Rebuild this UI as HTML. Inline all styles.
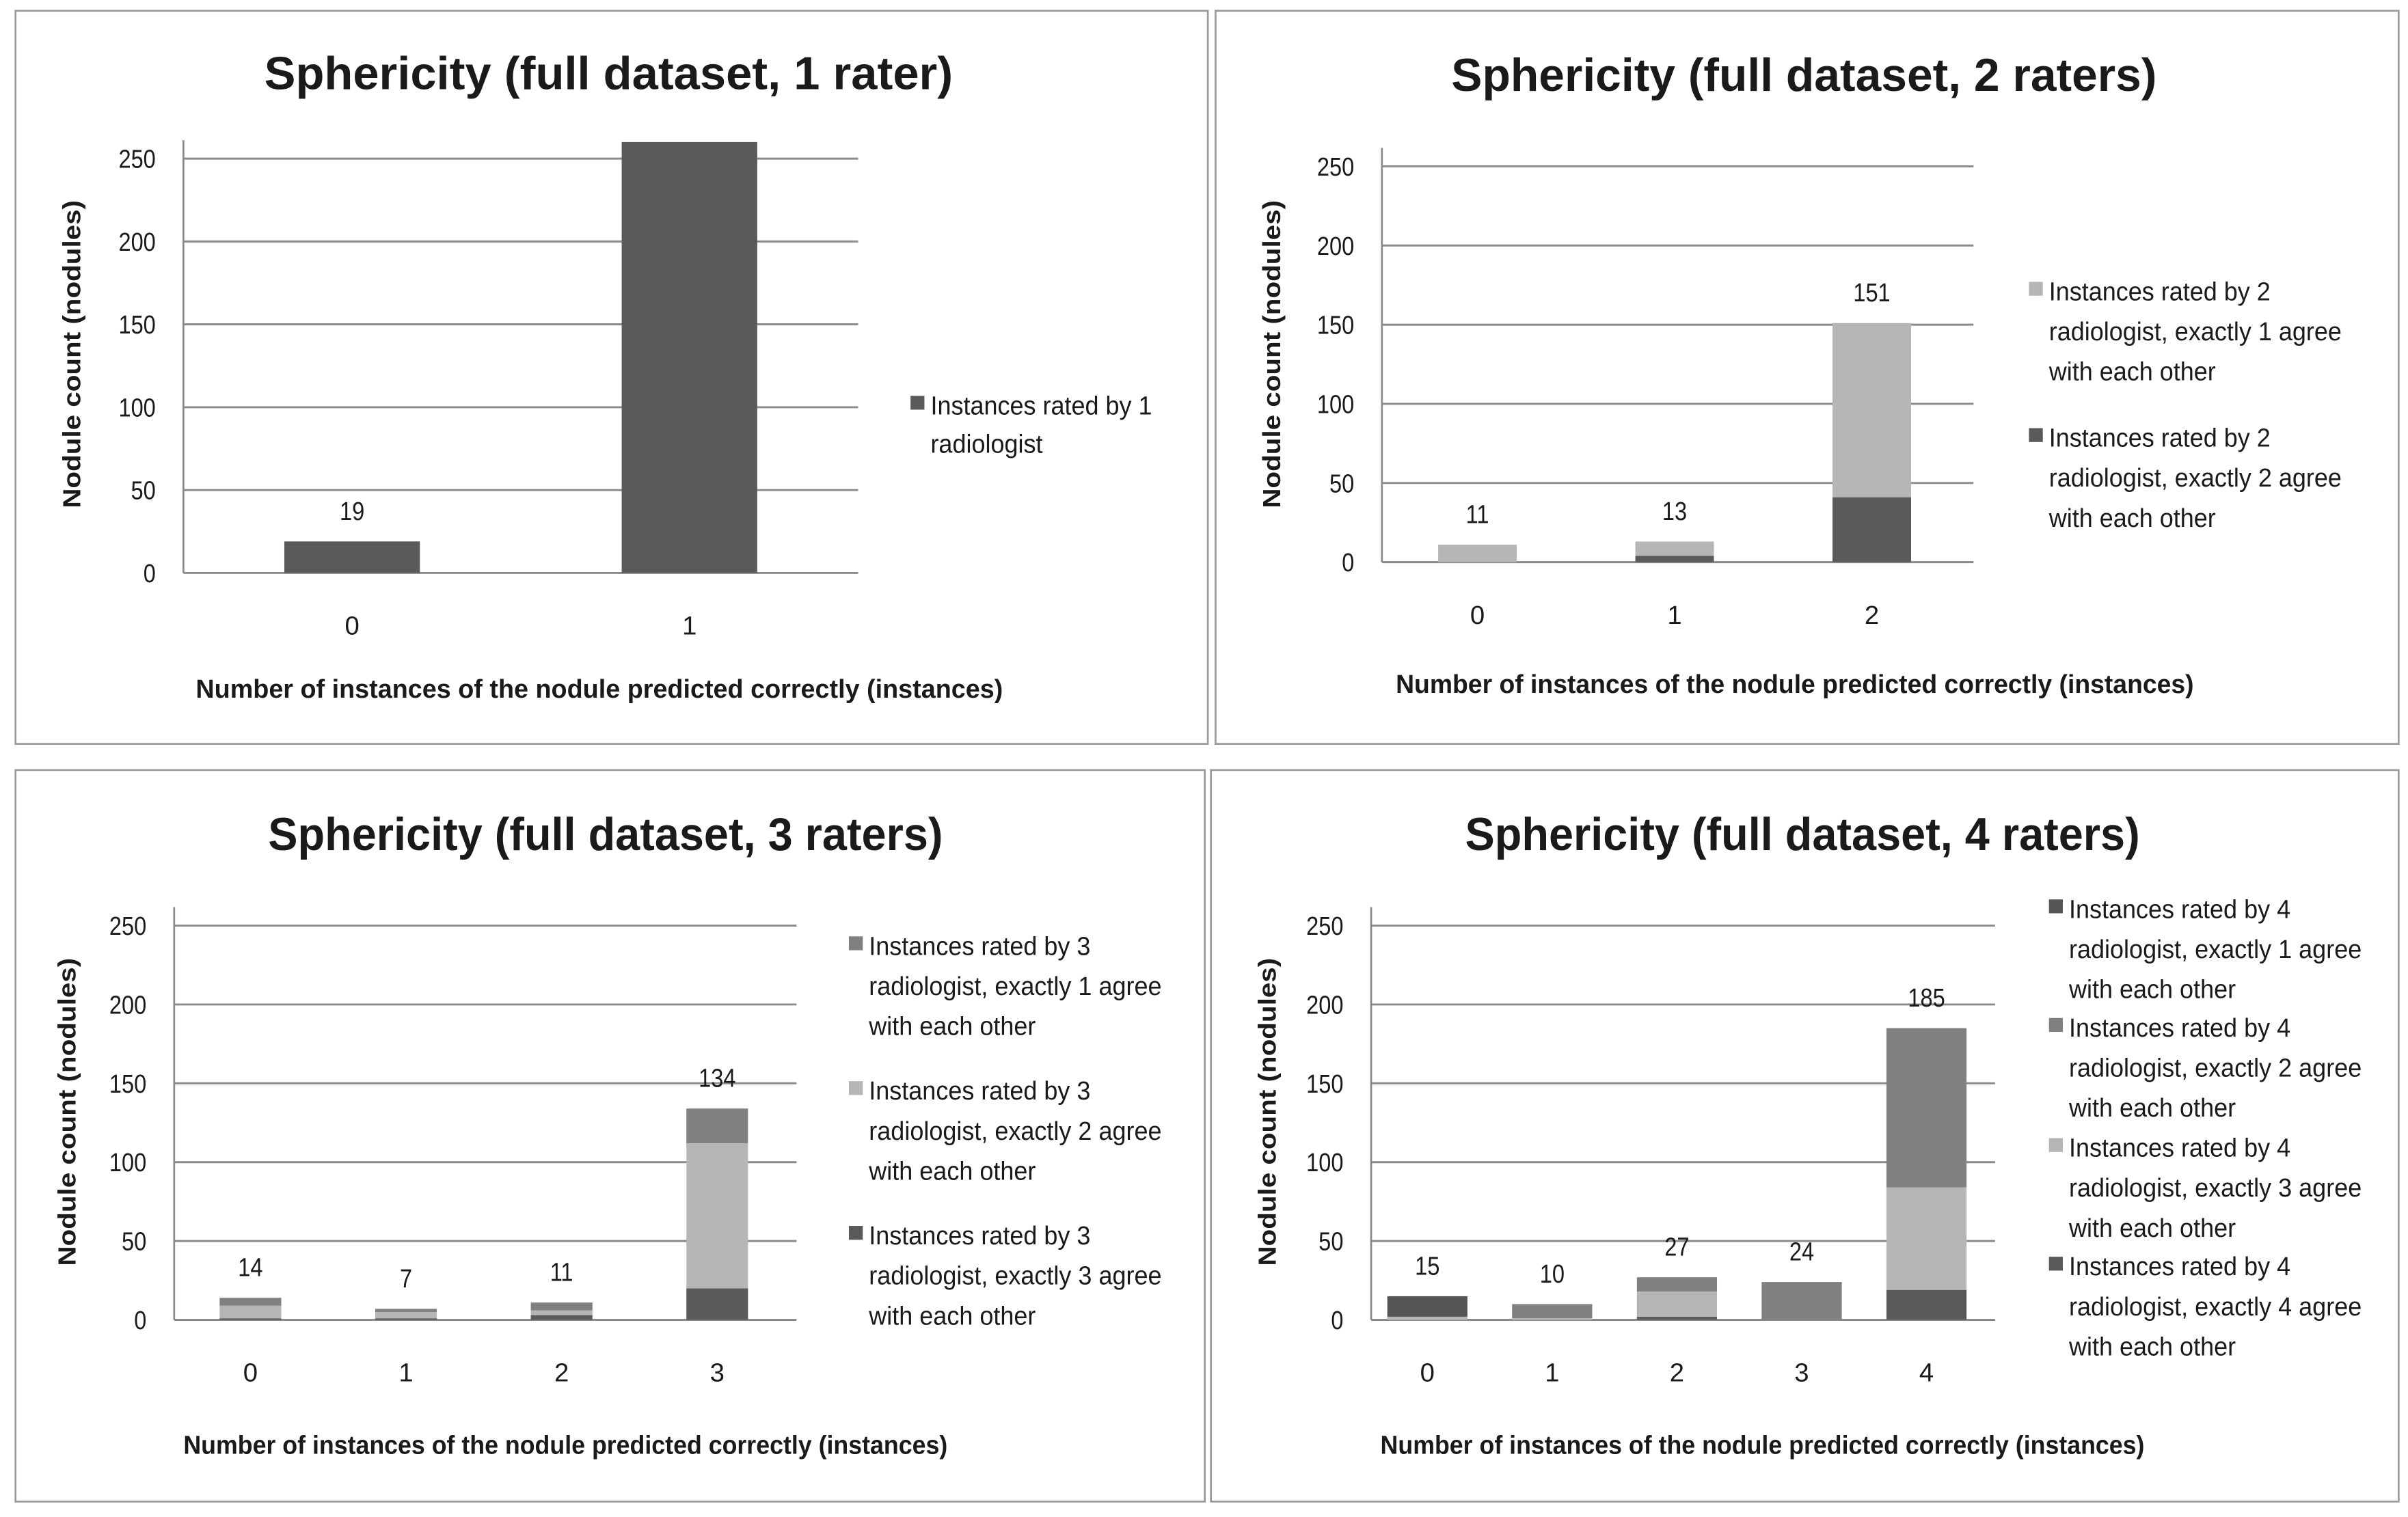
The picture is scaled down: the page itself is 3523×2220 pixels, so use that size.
<!DOCTYPE html>
<html><head><meta charset="utf-8">
<style>
html,body{margin:0;padding:0;background:#fff;}
svg{display:block;}
text{font-family:"Liberation Sans Narrow","Liberation Sans",sans-serif;fill:#1a1a1a;}
</style></head>
<body>
<svg id="root" width="3523" height="2220" viewBox="0 0 1563 985" xmlns="http://www.w3.org/2000/svg"></svg>
<script>
// ---- data ----
const cats1 = ["0","1"];
const c1_exact1 = [19, 260];
const totals1 = ["19", ""];

const cats2 = ["0","1","2"];
const c2_exact2 = [0, 4, 41];
const c2_exact1 = [11, 9, 110];
const totals2 = ["11","13","151"];

const cats3 = ["0","1","2","3"];
const c3_exact3 = [1, 1, 3, 20];
const c3_exact2 = [8, 4, 3, 92];
const c3_exact1 = [5, 2, 5, 22];
const totals3 = ["14","7","11","134"];

const cats4 = ["0","1","2","3","4"];
const c4_exact4 = [0, 0, 2, 0, 19];
const c4_exact3 = [2, 1, 16, 0, 65];
const c4_exact2 = [0, 9, 9, 24, 101];
const c4_exact1 = [13, 0, 0, 0, 0];
const totals4 = ["15","10","27","24","185"];

const yTicks = [0, 50, 100, 150, 200, 250];
const yMax = 250;

const NS = "http://www.w3.org/2000/svg";
const root = document.getElementById('root');
function mk(tag, attrs, parent){
  const e = document.createElementNS(NS, tag);
  for (const k in attrs) e.setAttribute(k, attrs[k]);
  (parent||root).appendChild(e);
  return e;
}
function txt(str, attrs, parent){ const t = mk('text', attrs, parent); t.textContent = str; return t; }
function condense(t, f){
  const w = t.getComputedTextLength();
  if (w > 0) { t.setAttribute('textLength', (w * f).toFixed(1)); t.setAttribute('lengthAdjust', 'spacingAndGlyphs'); }
}

function drawPanel(p){
  const g = mk('g', {});
  
  
  const frame = mk('rect', {x:p.bx, y:p.by, width:p.bw, height:p.bh, fill:'#fff', stroke:'#9a9a9a', 'stroke-width':1.2}, g);
  
  
  const title = txt(p.title, {x:p.titleX, y:p.titleY, 'text-anchor':'middle', 'font-size':30, 'font-weight':'bold', textLength:p.titleW, lengthAdjust:'spacingAndGlyphs'}, g);
  
  
  const yScale = v => p.y0 - (v / yMax) * (p.y0 - p.y250);
  yTicks.forEach(v => {
    const y = yScale(v);
    const gl = mk('line', {x1:p.ax, x2:p.ax2, y1:y, y2:y, stroke:'#8a8a8a', 'stroke-width':1.3}, g);
    
    
    const tl = txt(String(v), {x:p.ax - 18, y:y + 6, 'text-anchor':'end', 'font-size':17}, g);
    
    
    condense(tl, 0.85);
  });
  const axis = mk('line', {x1:p.ax, x2:p.ax, y1:p.y0, y2:p.y250 - 12, stroke:'#8a8a8a', 'stroke-width':1.2}, g);
  
  
  const n = p.cats.length;
  const step = (p.ax2 - p.ax) / n;
  const xC = i => p.ax + step * (i + 0.5) + (p.xOff || 0);
  p.cats.forEach((c, i) => {
    let acc = 0;
    p.series.forEach((s, si) => {
      const v = s.values[i];
      if (v > 0) {
        const yTop = yScale(acc + v), yBot = yScale(acc);
        const r = mk('rect', {x:xC(i) - p.barW/2, y:yTop, width:p.barW, height:yBot - yTop, fill:s.color}, g);
        
        
      }
      acc += v;
    });
    if (p.totals[i] !== "") {
      const lab = txt(p.totals[i], {x:xC(i), y:yScale(acc) - 14, 'text-anchor':'middle', 'font-size':17}, g);
      
      
      condense(lab, 0.85);
    }
    const xl = txt(c, {x:xC(i), y:p.y0 + 40, 'text-anchor':'middle', 'font-size':17}, g);
    
    
  });
  const xt = txt("Number of instances  of the nodule  predicted correctly (instances)", {x:p.xtX, y:p.xtY, 'text-anchor':'middle', 'font-size':17, 'font-weight':'bold', textLength:p.xtW || 520, lengthAdjust:'spacingAndGlyphs'}, g);
  
  
  const yt = txt("Nodule count  (nodules)", {x:0, y:0, 'text-anchor':'middle', 'font-size':16, 'font-weight':'bold', textLength:200, lengthAdjust:'spacingAndGlyphs', transform:'translate(' + p.ytX + ',' + p.ytY + ') rotate(-90)'}, g);
  
  
  p.legend.forEach(L => {
    const sq = mk('rect', {x:p.lx, y:L.y - 6, width:9, height:9, fill:L.color}, g);
    
    
    L.lines.forEach((ln, k) => {
      const t = txt(ln, {x:p.lx + 13, y:L.y + 6 + k * p.lh, 'font-size':17}, g);
      
      
      condense(t, 0.94);
    });
  });
}

const dark = '#5a5a5a', mid = '#808080', light = '#b6b6b6';

drawPanel({name:'panel-1-rater', bx:10, by:7, bw:774, bh:476, title:'Sphericity (full dataset, 1 rater)', titleX:395, titleY:58, titleW:447,
  ax:119, ax2:557, y0:372, y250:103, barW:88, cats:cats1, totals:totals1,
  series:[{key:'exact1', values:c1_exact1, color:dark}],
  xtX:389, xtY:453, xtW:524, ytX:52, ytY:230, lx:591, lh:25,
  legend:[{y:263, color:dark, lines:['Instances rated by 1','radiologist']}]});

drawPanel({name:'panel-2-raters', bx:789, by:7, bw:768, bh:476, title:'Sphericity (full dataset, 2 raters)', titleX:1171, titleY:59, titleW:458,
  ax:897, ax2:1281, y0:365, y250:108, barW:51, cats:cats2, totals:totals2, xOff:-2,
  series:[{key:'exact2', values:c2_exact2, color:dark},{key:'exact1', values:c2_exact1, color:light}],
  xtX:1165, xtY:450, xtW:518, ytX:831, ytY:230, lx:1317, lh:26,
  legend:[{y:189, color:light, lines:['Instances rated by 2','radiologist, exactly 1 agree','with each other']},
          {y:284, color:dark, lines:['Instances rated by 2','radiologist, exactly 2 agree','with each other']}]});

drawPanel({name:'panel-3-raters', bx:10, by:500, bw:772, bh:475, title:'Sphericity (full dataset, 3 raters)', titleX:393, titleY:552, titleW:438,
  ax:113, ax2:517, y0:857, y250:601, barW:40, cats:cats3, totals:totals3, xOff:-1,
  series:[{key:'exact3', values:c3_exact3, color:dark},{key:'exact2', values:c3_exact2, color:light},{key:'exact1', values:c3_exact1, color:mid}],
  xtX:367, xtY:944, xtW:496, ytX:49, ytY:722, lx:551, lh:26,
  legend:[{y:614, color:mid, lines:['Instances rated by 3','radiologist, exactly 1 agree','with each other']},
          {y:708, color:light, lines:['Instances rated by 3','radiologist, exactly 2 agree','with each other']},
          {y:802, color:dark, lines:['Instances rated by 3','radiologist, exactly 3 agree','with each other']}]});

drawPanel({name:'panel-4-raters', bx:786, by:500, bw:771, bh:475, title:'Sphericity (full dataset, 4 raters)', titleX:1170, titleY:552, titleW:438,
  ax:890, ax2:1295, y0:857, y250:601, barW:52, cats:cats4, totals:totals4, xOff:-4,
  series:[{key:'exact4', values:c4_exact4, color:dark},{key:'exact3', values:c4_exact3, color:light},{key:'exact2', values:c4_exact2, color:mid},{key:'exact1', values:c4_exact1, color:'#555'}],
  xtX:1144, xtY:944, xtW:496, ytX:828, ytY:722, lx:1330, lh:26,
  legend:[{y:590, color:'#555', lines:['Instances rated by 4','radiologist, exactly 1 agree','with each other']},
          {y:667, color:mid, lines:['Instances rated by 4','radiologist, exactly 2 agree','with each other']},
          {y:745, color:light, lines:['Instances rated by 4','radiologist, exactly 3 agree','with each other']},
          {y:822, color:dark, lines:['Instances rated by 4','radiologist, exactly 4 agree','with each other']}]});
</script>
</body></html>
